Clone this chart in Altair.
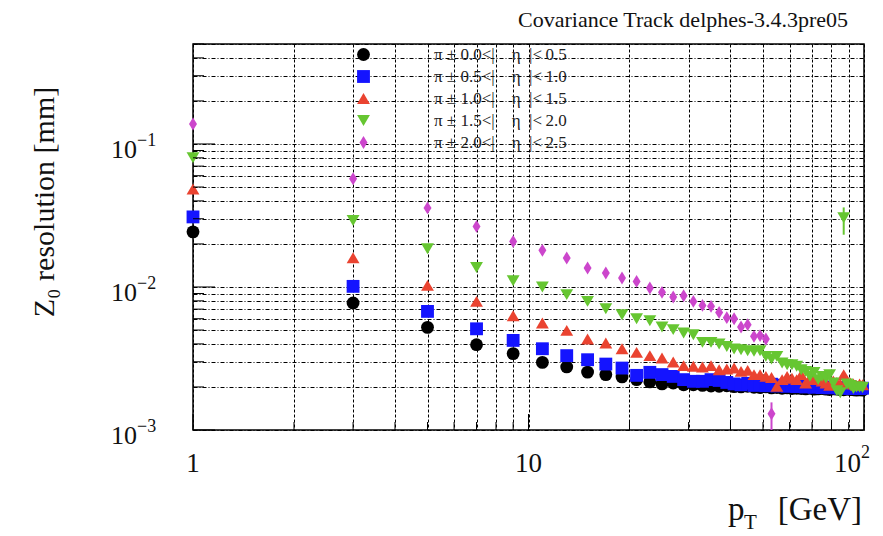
import altair as alt
import pandas as pd

# ---------------- data ----------------
pt_bins = [1, 3, 5, 7, 9, 11, 13, 15, 17, 19, 21, 23, 25, 27, 29, 31, 33, 35, 37, 39,
           41, 43, 45, 47, 49, 51, 53, 55, 57, 59, 61, 63, 65, 67, 69, 71, 73, 75, 77, 79,
           81, 83, 85, 87, 89, 91, 93, 95, 97, 99]

series_names = [
    "π ± 0.0<|\u2003η\u2002|<\u20090.5",
    "π ± 0.5<|\u2003η\u2002|<\u20091.0",
    "π ± 1.0<|\u2003η\u2002|<\u20091.5",
    "π ± 1.5<|\u2003η\u2002|<\u20092.0",
    "π ± 2.0<|\u2003η\u2002|<\u20092.5",
]
series_colors = ["#000000", "#1414ff", "#ea4330", "#66c631", "#cc46cc"]

res_eta_00_05 = [0.0243, 0.00773, 0.00522, 0.00395, 0.00342, 0.00297, 0.00276, 0.00254, 0.00244, 0.00235,
                 0.00225, 0.00217, 0.00210, 0.00213, 0.00207, 0.00207, 0.00205, 0.00203, 0.00202, 0.00204,
                 0.00201, 0.00200, 0.00202, 0.00199, 0.00198, 0.00200, 0.00197, 0.00198, 0.00196, 0.00197,
                 0.00195, 0.00196, 0.00195, 0.00194, 0.00196, 0.00193, 0.00194, 0.00195, 0.00193, 0.00192,
                 0.00194, 0.00193, 0.00192, 0.00191, 0.00193, 0.00192, 0.00191, 0.00190, 0.00191, 0.00190]
res_eta_05_10 = [0.0309, 0.0101, 0.00675, 0.00510, 0.00423, 0.00370, 0.00331, 0.00310, 0.00289, 0.00271,
                 0.00241, 0.00253, 0.00244, 0.00237, 0.00225, 0.00219, 0.00219, 0.00225, 0.00222, 0.00215,
                 0.00210, 0.00207, 0.00212, 0.00205, 0.00208, 0.00204, 0.00209, 0.00203, 0.00206, 0.00202,
                 0.00204, 0.00201, 0.00203, 0.00200, 0.00202, 0.00199, 0.00201, 0.00198, 0.00200, 0.00197,
                 0.00199, 0.00198, 0.00196, 0.00198, 0.00197, 0.00195, 0.00197, 0.00196, 0.00195, 0.00196]
res_eta_10_15 = [0.0484, 0.0160, 0.01026, 0.00793, 0.00630, 0.00560, 0.00497, 0.00433, 0.00406, 0.00370,
                 0.00349, 0.00331, 0.00319, 0.00299, 0.00282, 0.00279, 0.00276, 0.00282, 0.00264, 0.00267,
                 0.00271, 0.00257, 0.00261, 0.00244, 0.00244, 0.00237, 0.00233, 0.00202, 0.00225, 0.00237,
                 0.00230, 0.00225, 0.00244, 0.00213, 0.00230, 0.00225, 0.00225, 0.00220, 0.00213, 0.00205,
                 0.00220, 0.00215, 0.00210, 0.00244, 0.00220, 0.00213, 0.00210, 0.00205, 0.00210, 0.00207]
res_eta_15_20 = [0.0800, 0.0292, 0.0185, 0.0137, 0.01107, 0.0100, 0.00884, 0.00793, 0.00705, 0.00640,
                 0.00600, 0.00581, 0.00525, 0.00503, 0.00477, 0.00464, 0.00410, 0.00410, 0.00399, 0.00384,
                 0.00368, 0.00364, 0.00358, 0.00355, 0.00358, 0.00327, 0.00314, 0.00327, 0.00294, 0.00286,
                 0.00286, 0.00279, 0.00264, 0.00257, 0.00237, 0.00253, 0.00225, 0.00237, 0.00231, 0.00244,
                 0.00213, 0.00188, 0.00182, 0.0305, 0.00210, 0.00205, 0.00195, 0.00200, 0.00200, 0.00198]
res_eta_20_25 = [0.138, 0.0571, 0.0357, 0.0265, 0.0208, 0.01803, 0.01595, 0.01358, 0.01253, 0.01156,
                 0.01094, 0.00984, 0.00917, 0.00851, 0.00869, 0.00793, 0.00743, 0.00732, 0.00664, 0.00610,
                 0.00600, 0.00525, 0.00545, 0.00452, 0.00457, 0.00433, 0.00130]

# points that carry a visible error bar
err_series = [series_names[4], series_names[3]]
err_pt = [53, 87]
err_lo = [0.00100, 0.0232]
err_hi = [0.00156, 0.0360]

x_major = [1, 10, 100]
x_major_base = ["1", "10", "10"]
x_major_exp = ["", "", "2"]
x_minor = [2, 3, 4, 5, 6, 7, 8, 9, 20, 30, 40, 50, 60, 70, 80, 90]
y_major = [0.001, 0.01, 0.1]
y_major_base = ["10", "10", "10"]
y_major_exp = ["−3", "−2", "−1"]
y_minor = [0.002, 0.003, 0.004, 0.005, 0.006, 0.007, 0.008, 0.009,
           0.02, 0.03, 0.04, 0.05, 0.06, 0.07, 0.08, 0.09, 0.2, 0.3, 0.4, 0.5]

# ---------------- tables ----------------
all_series = [res_eta_00_05, res_eta_05_10, res_eta_10_15, res_eta_15_20, res_eta_20_25]
rows = []
for k, (name, vals) in enumerate(zip(series_names, all_series)):
    for pt, v in zip(pt_bins, vals):
        rows.append({"pt": pt, "res": v, "series": name, "order": k})
points_df = pd.DataFrame(rows)

err_df = pd.DataFrame({"pt": err_pt, "lo": err_lo, "hi": err_hi, "series": err_series})
xlab_df = pd.DataFrame({"v": x_major, "base": x_major_base, "exp": x_major_exp})
ylab_df = pd.DataFrame({"v": y_major, "base": y_major_base, "exp": y_major_exp})

FONT = "Liberation Serif"
TXT = "#111111"
W, H = 671, 386

xscale = alt.Scale(type="log", domain=[1, 100], nice=False)
yscale = alt.Scale(type="log", domain=[0.001, 0.5], nice=False)

shape_range = [
    "circle",
    "square",
    "M0,-0.85L1,0.85L-1,0.85Z",
    "M0,0.85L1,-0.85L-1,-0.85Z",
    "M0,-1L0.62,0L0,1L-0.62,0Z",
]

x_axis = alt.Axis(
    values=x_major + x_minor, labels=False,
    grid=True, gridColor="black", gridDash=[3, 2], gridWidth=1, gridOpacity=1,
    ticks=False, domain=False, title=None,
)
y_axis = alt.Axis(
    values=y_major + y_minor, labels=False,
    grid=True, gridColor="black", gridDash=[4, 2, 1, 2], gridWidth=1, gridOpacity=1,
    ticks=False, domain=False, title=None,
)

legend = alt.Legend(orient="none", legendX=162, legendY=2, title=None,
                    labelFont=FONT, labelFontSize=17, labelColor="#222222",
                    symbolSize=165, rowPadding=4, labelOffset=62, padding=0,
                    symbolStrokeWidth=0, symbolOpacity=1, labelLimit=300)

points = alt.Chart(points_df).mark_point(filled=True, opacity=1, size=165).encode(
    x=alt.X("pt:Q", scale=xscale, axis=x_axis),
    y=alt.Y("res:Q", scale=yscale, axis=y_axis),
    color=alt.Color("series:N", scale=alt.Scale(domain=series_names, range=series_colors), legend=legend),
    shape=alt.Shape("series:N", scale=alt.Scale(domain=series_names, range=shape_range), legend=legend),
    order=alt.Order("order:Q"),
)

errbars = alt.Chart(err_df).mark_rule(strokeWidth=2).encode(
    x=alt.X("pt:Q", scale=xscale),
    y=alt.Y("lo:Q", scale=yscale),
    y2="hi:Q",
    color=alt.Color("series:N", scale=alt.Scale(domain=series_names, range=series_colors), legend=None),
)

xticks_major = alt.Chart(pd.DataFrame({"v": x_major})).mark_rule(color="black", strokeWidth=1).encode(
    x=alt.X("v:Q", scale=xscale), y=alt.value(H), y2=alt.value(H - 16))
xticks_minor = alt.Chart(pd.DataFrame({"v": x_minor})).mark_rule(color="black", strokeWidth=1).encode(
    x=alt.X("v:Q", scale=xscale), y=alt.value(H), y2=alt.value(H - 8))
yticks_major = alt.Chart(pd.DataFrame({"v": y_major})).mark_rule(color="black", strokeWidth=1).encode(
    y=alt.Y("v:Q", scale=yscale), x=alt.value(0), x2=alt.value(22))
yticks_minor = alt.Chart(pd.DataFrame({"v": y_minor})).mark_rule(color="black", strokeWidth=1).encode(
    y=alt.Y("v:Q", scale=yscale), x=alt.value(0), x2=alt.value(11))

# tick labels with proper superscripts
ylab_base = alt.Chart(ylab_df).mark_text(font=FONT, fontSize=26, align="right", baseline="alphabetic",
                                         color=TXT, dy=14).encode(
    y=alt.Y("v:Q", scale=yscale), x=alt.value(-56), text="base:N")
ylab_exp = alt.Chart(ylab_df).mark_text(font=FONT, fontSize=18, align="left", baseline="alphabetic",
                                        color=TXT, dy=2).encode(
    y=alt.Y("v:Q", scale=yscale), x=alt.value(-56), text="exp:N")
xlab_centered = alt.Chart(xlab_df.iloc[:2]).mark_text(font=FONT, fontSize=27, align="center",
                                                      baseline="alphabetic", color=TXT).encode(
    x=alt.X("v:Q", scale=xscale), y=alt.value(H + 42), text="base:N")
xlab_last_base = alt.Chart(xlab_df.iloc[2:]).mark_text(font=FONT, fontSize=27, align="right",
                                                       baseline="alphabetic", color=TXT, dx=-3).encode(
    x=alt.X("v:Q", scale=xscale), y=alt.value(H + 42), text="base:N")
xlab_last_exp = alt.Chart(xlab_df.iloc[2:]).mark_text(font=FONT, fontSize=18, align="left",
                                                      baseline="alphabetic", color=TXT, dx=-3).encode(
    x=alt.X("v:Q", scale=xscale), y=alt.value(H + 28), text="exp:N")

title_txt = alt.Chart(pd.DataFrame({"t": ["Covariance Track delphes-3.4.3pre05"]})).mark_text(
    font=FONT, fontSize=22, align="right", baseline="alphabetic", color=TXT).encode(
    text="t:N", x=alt.value(655), y=alt.value(-17))
ytitle = alt.Chart(pd.DataFrame({"t": ["Z₀ resolution [mm]"]})).mark_text(
    font=FONT, fontSize=30, align="center", baseline="middle", angle=270, color=TXT).encode(
    text="t:N", x=alt.value(-148), y=alt.value(158))
xtitle_p = alt.Chart(pd.DataFrame({"t": ["p"]})).mark_text(
    font=FONT, fontSize=33, align="left", baseline="alphabetic", color=TXT).encode(
    text="t:N", x=alt.value(535), y=alt.value(476))
xtitle_T = alt.Chart(pd.DataFrame({"t": ["T"]})).mark_text(
    font=FONT, fontSize=21, align="left", baseline="alphabetic", color=TXT).encode(
    text="t:N", x=alt.value(551), y=alt.value(485))
xtitle_u = alt.Chart(pd.DataFrame({"t": ["[GeV]"]})).mark_text(
    font=FONT, fontSize=33, align="right", baseline="alphabetic", color=TXT).encode(
    text="t:N", x=alt.value(669), y=alt.value(476))

chart = alt.layer(
    points, errbars, xticks_major, xticks_minor, yticks_major, yticks_minor,
    ylab_base, ylab_exp, xlab_centered, xlab_last_base, xlab_last_exp,
    title_txt, ytitle, xtitle_p, xtitle_T, xtitle_u,
).properties(
    width=W, height=H,
    autosize=alt.AutoSizeParams(type="none"),
    padding={"left": 193, "top": 44, "right": 19, "bottom": 106},
    background="white",
).configure_view(stroke="black", strokeWidth=1.5)

chart.save("out.html", embed_options={"renderer": "svg", "actions": False})
